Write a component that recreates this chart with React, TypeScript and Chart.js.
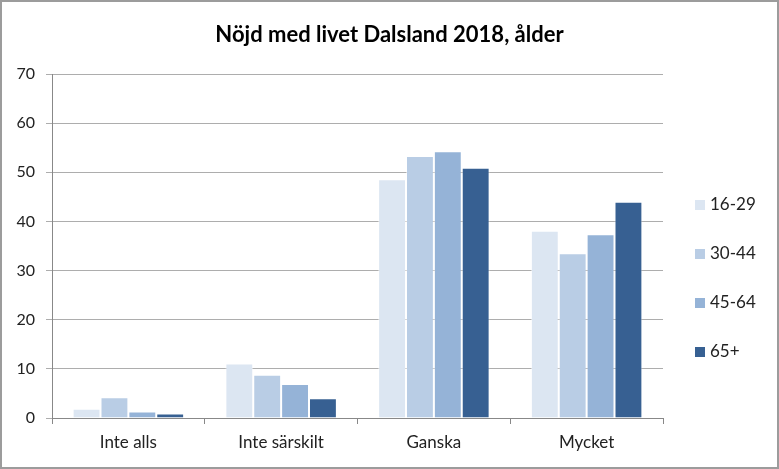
import React, { useEffect, useRef } from "react";
import { Chart, registerables } from "chart.js";

Chart.register(...registerables);

const categories = ["Inte alls", "Inte särskilt", "Ganska", "Mycket"];
const seriesNames = ["16-29", "30-44", "45-64", "65+"];
const s1629 = [1.9, 11.1, 48.6, 38.1];
const s3044 = [4.2, 8.8, 53.3, 33.5];
const s4564 = [1.3, 6.9, 54.3, 37.4];
const s65 = [0.9, 4.0, 50.9, 44.0];
const colors = ["#DCE6F2", "#B9CDE5", "#95B3D7", "#376092"];
const yTicks = [0, 10, 20, 30, 40, 50, 60, 70];
const titleText = "Nöjd med livet Dalsland 2018, ålder";

const FONT = "Lato, 'Open Sans', sans-serif";

const titlePlugin = {
  id: "customTitle",
  afterDraw(chart: any) {
    const { ctx, width } = chart;
    ctx.save();
    ctx.font = `bold 22px ${FONT}`;
    ctx.fillStyle = "#000";
    ctx.textAlign = "center";
    ctx.textBaseline = "alphabetic";
    ctx.fillText(titleText, width / 2, 40);
    ctx.restore();
  },
};

const legendPlugin = {
  id: "customLegend",
  afterDraw(chart: any) {
    const { ctx, chartArea } = chart;
    ctx.save();
    ctx.font = `17px ${FONT}`;
    ctx.textBaseline = "middle";
    ctx.textAlign = "left";
    const x = chartArea.right + 32;
    const startY = chartArea.top + 131;
    const step = 49;
    chart.data.datasets.forEach((ds: any, i: number) => {
      const cy = startY + i * step;
      ctx.fillStyle = ds.backgroundColor;
      ctx.fillRect(x, cy - 5, 10, 10);
      ctx.fillStyle = "#222";
      ctx.fillText(ds.label, x + 15, cy);
    });
    ctx.restore();
  },
};

export default function App() {
  const ref = useRef<HTMLCanvasElement | null>(null);
  useEffect(() => {
    if (!ref.current) return;
    const data = [s1629, s3044, s4564, s65];
    const chart = new Chart(ref.current, {
      type: "bar",
      data: {
        labels: categories,
        datasets: seriesNames.map((n, i) => ({
          label: n,
          data: data[i],
          backgroundColor: colors[i],
          borderColor: "rgba(255,255,255,0.5)",
          borderWidth: 1,
          barPercentage: 1,
          categoryPercentage: 0.73,
        })),
      },
      plugins: [titlePlugin, legendPlugin],
      options: {
        responsive: false,
        animation: false,
        layout: { padding: { left: 0, right: 114, top: 72, bottom: 0 } },
        plugins: {
          legend: { display: false },
          tooltip: { enabled: false },
          title: { display: false },
        },
        scales: {
          x: {
            grid: {
              drawOnChartArea: false,
              drawTicks: true,
              tickLength: 6,
              color: "#888",
            },
            border: { color: "#888" },
            ticks: {
              color: "#222",
              font: { family: FONT, size: 17 },
              padding: 8,
            },
            afterFit(scale: any) {
              scale.height = 49;
            },
          },
          y: {
            min: 0,
            max: 70,
            afterBuildTicks(scale: any) {
              scale.ticks = yTicks.map((v) => ({ value: v }));
            },
            grid: { color: "#ADADAD", tickLength: 6 },
            border: { color: "#888" },
            ticks: {
              color: "#222",
              font: { family: FONT, size: 16 },
              padding: 11,
            },
            afterFit(scale: any) {
              scale.width = 50;
            },
          },
        },
      },
    });
    return () => chart.destroy();
  }, []);
  return (
    <div
      style={{
        position: "fixed",
        left: 0,
        top: 0,
        width: 779,
        height: 469,
        boxSizing: "border-box",
        border: "2px solid #9C9C9C",
        background: "#fff",
      }}
    >
      <canvas ref={ref} width={775} height={465} style={{ display: "block" }} />
    </div>
  );
}
